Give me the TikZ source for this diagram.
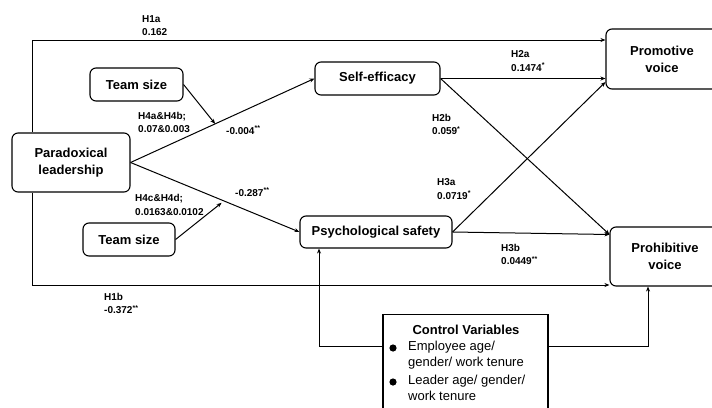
\documentclass[tikz,border=0pt]{standalone}
\usepackage{fontspec}
\setmainfont{Liberation Sans}
\usetikzlibrary{arrows.meta,calc}
\begin{document}
\begin{tikzpicture}[x=1pt,y=-1pt,
  box/.style={draw, line width=1.1pt, rounded corners=6pt, align=center,
    font=\bfseries\fontsize{13}{17}\selectfont, inner sep=0pt},
  arr/.style={line width=1pt, -{Stealth[length=5pt,width=4pt]}},
  lab/.style={font=\bfseries\fontsize{10}{13.5}\selectfont, align=left, inner sep=0pt, anchor=west},
  cvtext/.style={font=\fontsize{13}{15.5}\selectfont, align=left, inner sep=0pt, anchor=north west}]
\useasboundingbox (0,0) rectangle (712,407);
\fill[white] (0,0) rectangle (712,407);
\clip (0,0) rectangle (712,407);

% nodes
\node[box, minimum width=118pt, minimum height=59pt] (para) at (71,162.5) {Paradoxical\\leadership};
\node[box, minimum width=93pt, minimum height=33pt] (ts1) at (136.5,84.5) {Team size};
\node[box, minimum width=92pt, minimum height=33pt] (ts2) at (129,239.5) {Team size};
\node[box, minimum width=125pt, minimum height=33pt] (self) at (377.5,78.5) {Self-efficacy};
\node[box, minimum width=112pt, minimum height=60pt] (promo) at (662,59) {Promotive\\voice};
\node[box, minimum width=152pt, minimum height=32pt] (psych) at (376,232) {Psychological safety};
\node[box, minimum width=110pt, minimum height=59pt] (prohib) at (665,256.5) {Prohibitive\\voice};
\node[draw, line width=1.1pt, minimum width=165pt, minimum height=110pt, anchor=north, inner sep=0pt] (ctrl) at (465.5,314) {};

% control variable text
\node[font=\bfseries\fontsize{13}{15}\selectfont, inner sep=0pt] (cvt) at (466,330) {Control Variables};
\node[cvtext] (cv1) at (408,341) {Employee age/\\gender/ work tenure};
\node[cvtext] (cv2) at (408,375) {Leader age/ gender/\\work tenure};
\fill (393,348) circle (3.6pt);
\fill (393,382) circle (3.6pt);

% connectors
\draw[arr] ([xshift=21pt]para.north west) |- ([yshift=19pt]promo.west);
\draw[arr] ([xshift=21pt]para.south west) |- ([yshift=-28.5pt]prohib.west);
\draw[arr] ([yshift=-32pt]ctrl.north west) -| ([xshift=-57pt]psych.south);
\draw[arr] ([yshift=-32pt]ctrl.north east) -| ([xshift=-17pt]prohib.south);

\draw[arr] (para.east) -- (self.west);
\draw[arr] (para.east) -- (psych.west);
\coordinate (m1) at ($(para.east)!0.46!(self.west)$);
\coordinate (m2) at ($(para.east)!0.553!(psych.west)$);
\draw[arr] (ts1.east) -- (m1);
\draw[arr, shorten >=3pt] (ts2.east) -- (m2);

\draw[arr] (self.east) -- (self.east -| promo.west);
\draw[arr] (self.east) -- ([yshift=22pt]prohib.west);
\draw[arr] (psych.east) -- ([yshift=-23pt]promo.west);
\draw[arr] (psych.east) -- ([yshift=22pt]prohib.west);

% labels
\node[lab] (l1a) at (142,25.5) {H1a\\0.162};
\node[lab] (l2a) at (511,61) {H2a\\0.1474\textsuperscript{*}};
\node[lab] (l2b) at (432,124.5) {H2b\\0.059\textsuperscript{*}};
\node[lab] (l3a) at (437,189) {H3a\\0.0719\textsuperscript{*}};
\node[lab] (l3b) at (501,254.5) {H3b\\0.0449\textsuperscript{**}};
\node[lab] (l4a) at (138,122.5) {H4a\&H4b;\\0.07\&0.003};
\node[lab] (c1) at (226,130) {-0.004\textsuperscript{**}};
\node[lab] (c2) at (235,192) {-0.287\textsuperscript{**}};
\node[lab] (l4c) at (135,205) {H4c\&H4d;\\0.0163\&0.0102};
\node[lab] (l1b) at (104,303.5) {H1b\\-0.372\textsuperscript{**}};
\end{tikzpicture}
\end{document}
